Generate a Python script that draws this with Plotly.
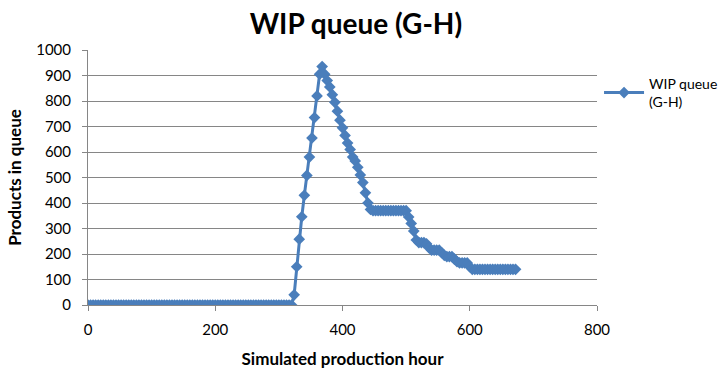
import plotly.graph_objects as go

hours = list(range(0, 673, 4))

zeros = [0] * 81  # hours 0..320
rise = [40, 150, 258, 346, 430, 508, 580, 655, 735, 820, 905, 935]  # 324..368
descent = [905, 880, 855, 825, 795, 760, 725, 695, 665, 635, 610, 580,
           565, 540, 510, 480, 440, 400, 375]  # 372..444
plateau = [370] * 14  # 448..500
tail = [345, 320, 290, 255, 245, 245, 245, 240, 225, 215, 215, 215, 215,
        205, 195, 190, 190, 190, 180, 170, 165, 165, 165, 165, 150]  # 504..600
final = [140] * 18  # 604..672
queue = zeros + rise + descent + plateau + tail + final
queue = queue[:len(hours)]
hours = hours[:len(queue)]

x_ticks = [0, 200, 400, 600, 800]
y_ticks = list(range(0, 1001, 100))

font = "Lato, Open Sans, sans-serif"
blue = "#4A7EBB"

fig = go.Figure()
fig.add_trace(go.Scatter(
    x=hours, y=queue, mode="lines+markers",
    name="WIP queue<br>(G-H)",
    line=dict(color=blue, width=3),
    marker=dict(symbol="diamond", size=9, color=blue),
))

fig.update_layout(
    width=719, height=375,
    margin=dict(l=88, r=122, t=50, b=70, autoexpand=False),
    paper_bgcolor="white", plot_bgcolor="white",
    font=dict(family=font, size=14, color="#000"),
    title=dict(text="<b>WIP queue (G-H)</b>", x=0.495, xanchor="center",
               y=0.935, yanchor="middle", font=dict(size=28, family=font)),
    showlegend=True,
    legend=dict(x=1.004, y=0.93, xanchor="left", yanchor="top",
                font=dict(size=14, family=font), bgcolor="rgba(0,0,0,0)",
                itemwidth=40, tracegroupgap=0),
    xaxis=dict(range=[0, 800], tickvals=x_ticks, showgrid=False,
               showline=True, linecolor="#868686", linewidth=1,
               ticks="outside", ticklen=5, tickcolor="#868686",
               ticklabelstandoff=6, tickfont=dict(size=15),
               zeroline=False,
               title=dict(text="<b>Simulated production hour</b>",
                          font=dict(size=17), standoff=16)),
    yaxis=dict(range=[0, 1000], tickvals=y_ticks, showgrid=True,
               gridcolor="#868686", gridwidth=1,
               showline=True, linecolor="#868686", linewidth=1,
               ticks="outside", ticklen=5, tickcolor="#868686",
               ticklabelstandoff=8, tickfont=dict(size=15),
               zeroline=False,
               title=dict(text="<b>Products in queue</b>",
                          font=dict(size=17), standoff=10)),
)

fig.write_html("out.html")
